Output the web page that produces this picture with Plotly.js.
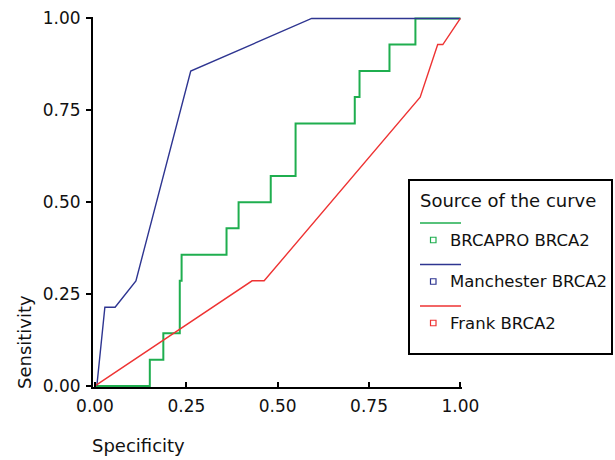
<!DOCTYPE html>
<html><head><meta charset="utf-8">
<script src="https://cdn.plot.ly/plotly-3.0.1.min.js"></script>
<style>body{margin:0;background:#fff}#chart{width:615px;height:460px}</style>
</head><body><div id="chart"></div>
<script>
// Series names
const seriesNames = ["BRCAPRO BRCA2", "Manchester BRCA2", "Frank BRCA2"];
const seriesColors = ["#1fae4f", "#2e3591", "#ee3333"];
// BRCAPRO BRCA2 (step curve)
const brcaproX = [0, 0.15, 0.187, 0.232, 0.237, 0.36, 0.393, 0.481, 0.549, 0.711, 0.724, 0.806, 0.877, 1.0];
const brcaproY = [0, 0.071, 0.143, 0.286, 0.357, 0.429, 0.5, 0.571, 0.714, 0.786, 0.857, 0.929, 1.0, 1.0];
// Manchester BRCA2
const manX = [0.005, 0.027, 0.055, 0.112, 0.262, 0.593, 1.0];
const manY = [0, 0.214, 0.214, 0.286, 0.857, 1.0, 1.0];
// Frank BRCA2
const frankX = [0, 0.43, 0.463, 0.89, 0.938, 0.952, 1.0];
const frankY = [0, 0.286, 0.286, 0.786, 0.929, 0.929, 1.0];
// Ticks
const tickVals = [0, 0.25, 0.5, 0.75, 1.0];
const tickText = ["0.00", "0.25", "0.50", "0.75", "1.00"];
const xTitle = "Specificity";
const yTitle = "Sensitivity";
const legendTitle = "Source of the curve";

const FONT = "'DejaVu Sans', sans-serif";
const W = 615, H = 460, L = 93, R = 462, T = 17, B = 387;
const px = v => (v - L) / (R - L);
const py = v => (B - v) / (B - T);

const traces = [
  {x: brcaproX, y: brcaproY, mode: "lines", line: {color: seriesColors[0], width: 2, shape: "hv"}, name: seriesNames[0], showlegend: false},
  {x: manX, y: manY, mode: "lines", line: {color: seriesColors[1], width: 1.4}, name: seriesNames[1], showlegend: false},
  {x: frankX, y: frankY, mode: "lines", line: {color: seriesColors[2], width: 1.4}, name: seriesNames[2], showlegend: false}
];

const shapes = [
  {type: "rect", xref: "paper", yref: "paper", x0: px(409), x1: px(612), y0: py(180), y1: py(354), line: {color: "#000", width: 2}, fillcolor: "rgba(255,255,255,1)", layer: "above"}
];
const annotations = [
  {text: legendTitle, xref: "paper", yref: "paper", x: px(418), y: py(200), xanchor: "left", yanchor: "middle", showarrow: false, font: {family: FONT, size: 18, color: "#111"}},
  {text: xTitle, xref: "paper", yref: "paper", x: px(90), y: py(445), xanchor: "left", yanchor: "middle", showarrow: false, font: {family: FONT, size: 18, color: "#111"}},
  {text: yTitle, xref: "paper", yref: "paper", x: px(24), y: py(342), xanchor: "center", yanchor: "middle", textangle: -90, showarrow: false, font: {family: FONT, size: 18, color: "#111"}}
];
const lineYs = [223, 264.5, 306];
seriesNames.forEach((nm, i) => {
  const ly = lineYs[i];
  shapes.push({type: "line", xref: "paper", yref: "paper", x0: px(420), x1: px(461), y0: py(ly), y1: py(ly), line: {color: seriesColors[i], width: 1.5}, layer: "above"});
  const sy = ly + 17;
  shapes.push({type: "rect", xref: "paper", yref: "paper", x0: px(430.5), x1: px(436), y0: py(sy - 2.75), y1: py(sy + 2.75), line: {color: seriesColors[i], width: 1.2}, fillcolor: "rgba(0,0,0,0)", layer: "above"});
  annotations.push({text: nm, xref: "paper", yref: "paper", x: px(448), y: py(sy), xanchor: "left", yanchor: "middle", showarrow: false, font: {family: FONT, size: 16.5, color: "#111"}});
});

const layout = {
  width: W, height: H,
  margin: {l: L, r: W - R, t: T, b: H - B, pad: 0},
  paper_bgcolor: "#fff", plot_bgcolor: "#fff",
  showlegend: false,
  font: {family: FONT, size: 17, color: "#111"},
  xaxis: {range: [-0.0055, 1.0045], tickvals: tickVals, ticktext: tickText, showgrid: false, zeroline: false,
          showline: true, linecolor: "#000", linewidth: 2, ticks: "inside", ticklen: 5, tickwidth: 2, tickcolor: "#000",
          ticklabelstandoff: 3,
          tickfont: {family: FONT, size: 17, color: "#111"}, fixedrange: true},
  yaxis: {range: [-0.003, 1.004], tickvals: tickVals, ticktext: tickText, showgrid: false, zeroline: false,
          showline: true, linecolor: "#000", linewidth: 2, ticks: "outside", ticklen: 5, tickwidth: 2, tickcolor: "#000",
          ticklabelstandoff: 2,
          tickfont: {family: FONT, size: 17, color: "#111"}, fixedrange: true},
  shapes: shapes,
  annotations: annotations
};
Plotly.newPlot("chart", traces, layout, {displayModeBar: false, staticPlot: true});
</script></body></html>
